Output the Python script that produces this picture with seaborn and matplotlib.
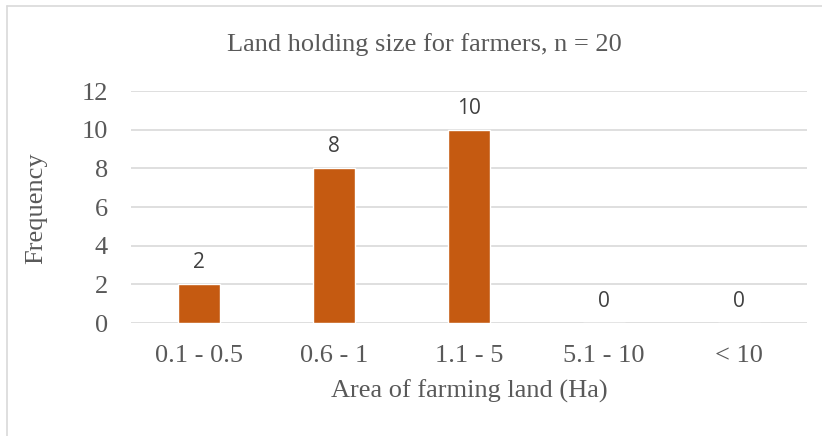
import matplotlib
matplotlib.use("Agg")
import matplotlib.pyplot as plt
import seaborn as sns
import pandas as pd
from matplotlib.lines import Line2D

categories = ["0.1 - 0.5", "0.6 - 1", "1.1 - 5", "5.1 - 10", "< 10"]
frequency = [2, 8, 10, 0, 0]
y_ticks = [0, 2, 4, 6, 8, 10, 12]

df = pd.DataFrame({"Area": categories, "Frequency": frequency})

sns.set_theme(style="white")
serif = ["Liberation Serif", "DejaVu Serif"]
text_grey = "#595959"
serif_size = 19

W, H = 822, 436
fig = plt.figure(figsize=(W / 100, H / 100), dpi=100)
ax = fig.add_axes([131 / W, 1 - 323 / H, 676 / W, 232 / H])

sns.barplot(data=df, x="Area", y="Frequency", color="#C55A11", width=0.31,
            saturation=1, ax=ax, zorder=3)

ax.set_ylim(0, 12)
ax.set_yticks(y_ticks)
ax.yaxis.grid(True, color="#D9D9D9", linewidth=1.2, zorder=0)
for s in ax.spines.values():
    s.set_visible(False)
ax.tick_params(axis="both", length=0, colors=text_grey, labelsize=serif_size)
ax.tick_params(axis="x", pad=15.5)
ax.tick_params(axis="y", pad=16.5)
for lab in ax.get_xticklabels() + ax.get_yticklabels():
    lab.set_fontfamily(serif)

ax.set_xlabel("Area of farming land (Ha)", fontsize=serif_size, color=text_grey,
              family=serif)
ax.xaxis.set_label_coords(0.5, (323 - 380) / 232)
ax.set_ylabel("")

fig.text(36 / W, 1 - 208 / H, "Frequency", rotation=90, ha="center", va="center",
         fontsize=serif_size, color=text_grey, family=serif)
fig.text(424 / W, 1 - 45 / H, "Land holding size for farmers, n = 20",
         ha="center", va="center", fontsize=serif_size, color=text_grey, family=serif)

for cont in ax.containers:
    ax.bar_label(cont, labels=[str(v) for v in frequency], padding=8,
                 fontsize=15, color="#404040", family=["Open Sans", "DejaVu Sans"])

# chart-area frame (left and top edges)
frame_kw = dict(transform=fig.transFigure, color="#D9D9D9", linewidth=1.2)
fig.add_artist(Line2D([6.5 / W, 6.5 / W], [0, 1 - 6.5 / H], **frame_kw))
fig.add_artist(Line2D([6.5 / W, 1], [1 - 6.5 / H, 1 - 6.5 / H], **frame_kw))

fig.savefig("out.png", dpi=100)
